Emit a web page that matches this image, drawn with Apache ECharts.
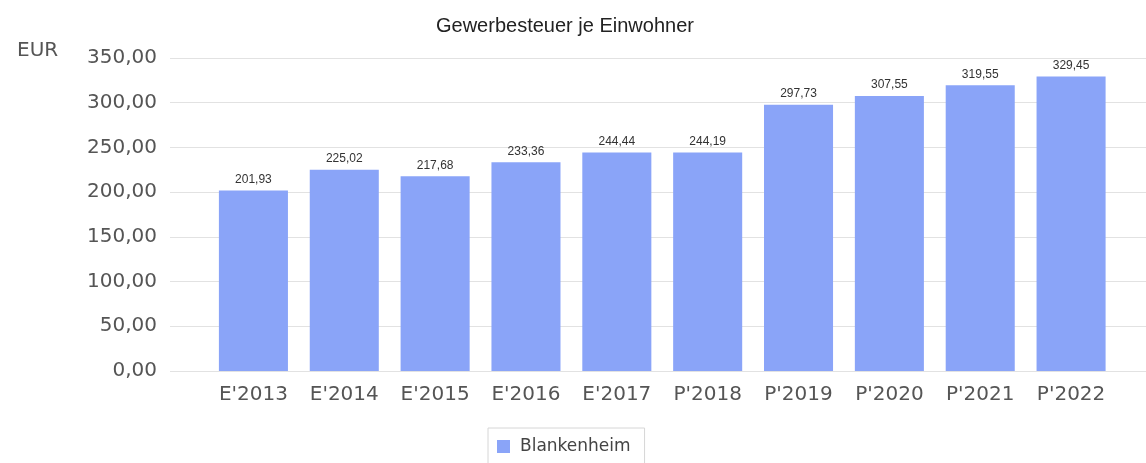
<!DOCTYPE html>
<html>
<head>
<meta charset="utf-8">
<script src="https://cdn.jsdelivr.net/npm/echarts@6/dist/echarts.min.js"></script>
<style>
html,body{margin:0;padding:0;background:#fff;}
#main{width:1146px;height:463px;}
</style>
</head>
<body>
<div id="main"></div>
<script>
const categories = ["E'2013","E'2014","E'2015","E'2016","E'2017","P'2018","P'2019","P'2020","P'2021","P'2022"];
const values = [201.93, 225.02, 217.68, 233.36, 244.44, 244.19, 297.73, 307.55, 319.55, 329.45];
const seriesName = 'Blankenheim';
const titleText = 'Gewerbesteuer je Einwohner';
const unitText = 'EUR';
const yMin = 0, yMax = 350, yStep = 50;

const fmt = v => Number(v).toFixed(2).replace('.', ',');

const chart = echarts.init(document.getElementById('main'), null, {renderer: 'canvas'});
chart.setOption({
  animation: false,
  backgroundColor: '#ffffff',
  title: [{
    text: titleText,
    left: 431, top: 11,
    textStyle: {fontFamily: 'Liberation Sans', fontSize: 20, fontWeight: 'normal', color: '#222'}
  }, {
    text: unitText,
    left: 12, top: 36,
    textStyle: {fontFamily: 'DejaVu Sans', fontSize: 20, fontWeight: 'normal', color: '#555'}
  }],
  legend: {
    data: [seriesName],
    left: 488, top: 428,
    icon: 'rect', itemWidth: 13, itemHeight: 13,
    padding: [10, 14, 10, 9],
    borderColor: '#d6d6d6', borderWidth: 1,
    textStyle: {fontFamily: 'DejaVu Sans', fontSize: 17, color: '#444', padding: [0, 0, 0, 5]}
  },
  grid: [
    {left: 170, right: 0, top: 58, bottom: 92},
    {left: 208, right: 29.5, top: 58, bottom: 92}
  ],
  xAxis: [
    {gridIndex: 0, type: 'value', show: false, min: 0, max: 1},
    {gridIndex: 1, type: 'category', data: categories,
     axisLine: {show: false}, axisTick: {show: false},
     axisLabel: {fontFamily: 'DejaVu Sans', fontSize: 20, color: '#555', margin: 14}}
  ],
  yAxis: [
    {gridIndex: 0, type: 'value', min: yMin, max: yMax, interval: yStep,
     axisLine: {show: false}, axisTick: {show: false},
     axisLabel: {fontFamily: 'DejaVu Sans', fontSize: 20, color: '#555', margin: 13, formatter: fmt},
     splitLine: {lineStyle: {color: '#e2e2e2', width: 1}}},
    {gridIndex: 1, type: 'value', min: yMin, max: yMax, interval: yStep, show: false}
  ],
  series: [{
    name: seriesName,
    type: 'bar',
    xAxisIndex: 1, yAxisIndex: 1,
    data: values,
    barWidth: '76%',
    itemStyle: {color: '#8aa4f8'},
    label: {show: true, position: 'top', distance: 5, formatter: p => fmt(p.value),
      fontFamily: 'Liberation Sans', fontSize: 12, color: '#333'}
  }]
});
</script>
</body>
</html>
